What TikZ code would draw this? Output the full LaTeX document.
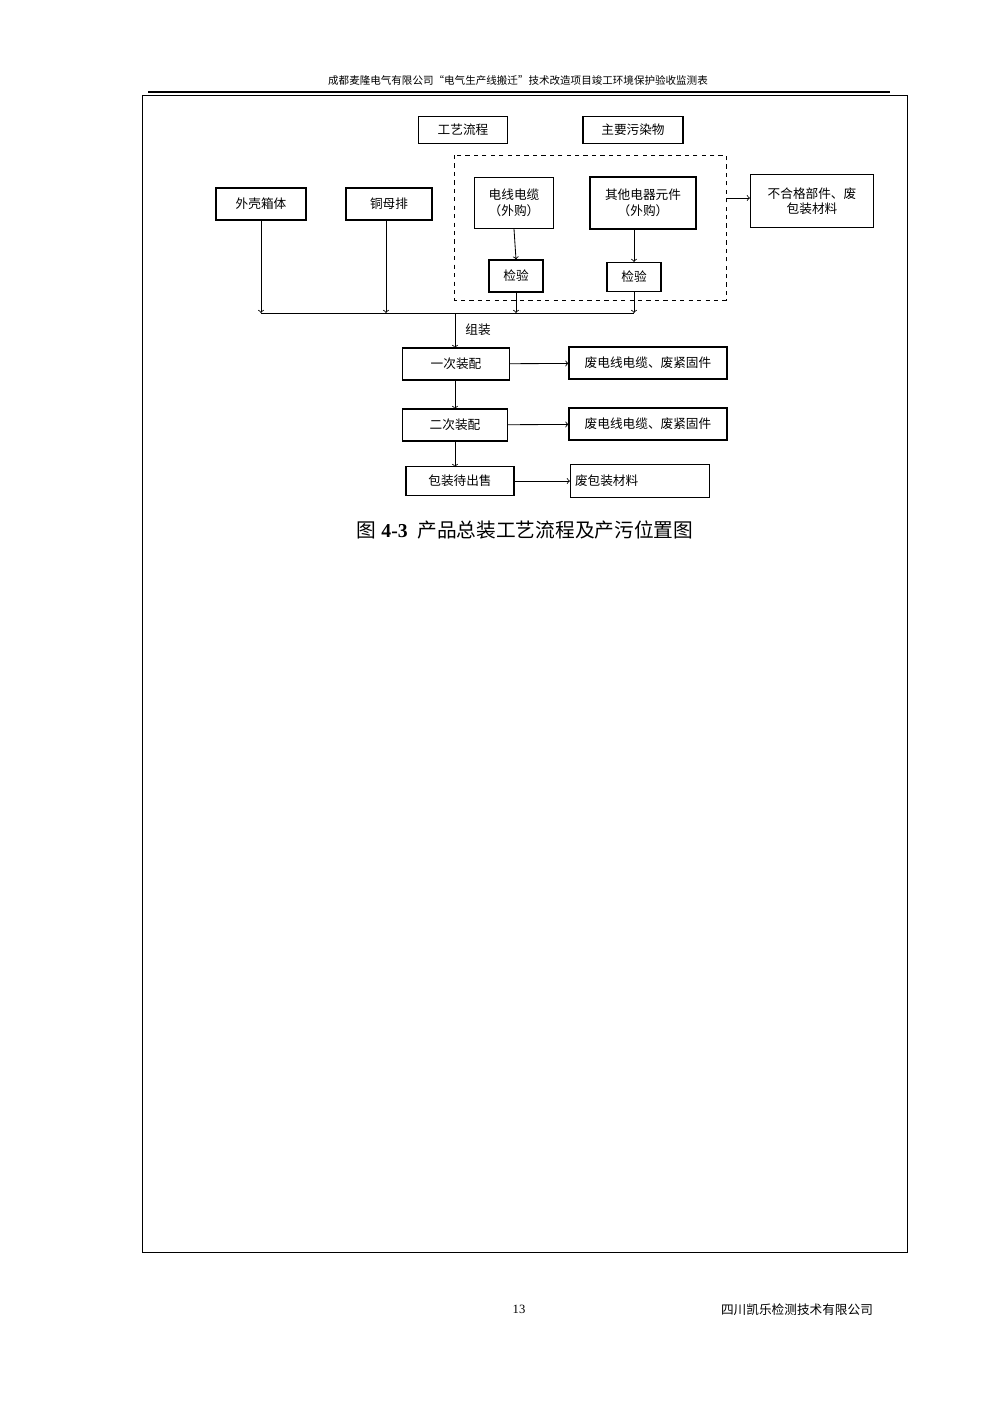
\documentclass[tikz,border=0pt]{standalone}
\usepackage{fontspec}
\setmainfont{Liberation Serif}
\newfontfamily\cjk{Noto Sans CJK SC}
\usetikzlibrary{arrows,shapes,positioning,calc}
\begin{document}
\begin{tikzpicture}[x=0.025cm,y=-0.025cm,
    box/.style={draw, thick, font=\cjk\fontsize{9}{11}\selectfont, inner sep=1pt, align=center},
    link/.style={->, semithick}]
    \useasboundingbox (0,0) rectangle (992,1403);
    % header and frame
    \node[font=\cjk\fontsize{7.5}{9}\selectfont] (head) at (518,80) {成都麦隆电气有限公司“电气生产线搬迁”技术改造项目竣工环境保护验收监测表};
    \draw[line width=1.5pt] (148,92) -- (890,92);
    \draw[semithick] (142,95) rectangle (907,1252);

    % legend
    \node[box, minimum width=89*0.025cm, minimum height=27*0.025cm] (proc) at (463,130) {工艺流程};
    \node[box, minimum width=100*0.025cm, minimum height=27*0.025cm] (poll) at (633,130) {主要污染物};

    % purchased parts
    \draw[dashed] (454,155) rectangle (726,300);
    \coordinate (dashR) at (726,198);
    \node[box, minimum width=90*0.025cm, minimum height=32*0.025cm] (shell) at (261,204) {外壳箱体};
    \node[box, minimum width=86*0.025cm, minimum height=32*0.025cm] (bar) at (389,204) {铜母排};
    \node[box, minimum width=79*0.025cm, minimum height=51*0.025cm] (cable) at (514,203) {电线电缆\\（外购）};
    \node[box, minimum width=106*0.025cm, minimum height=52*0.025cm] (elem) at (643,203) {其他电器元件\\（外购）};
    \node[box, minimum width=123*0.025cm, minimum height=53*0.025cm] (waste0) at (812,201) {不合格部件、废\\包装材料};
    \node[box, minimum width=54*0.025cm, minimum height=32*0.025cm] (chk1) at (516,276) {检验};
    \node[box, minimum width=54*0.025cm, minimum height=29*0.025cm] (chk2) at (634,277) {检验};

    \draw[link] (cable.south) -- (chk1.north);
    \draw[link] (634,229) -- (chk2.north);
    \draw[link] (dashR) -- (waste0.west |- dashR);

    % assembly line
    \coordinate (busL) at (261,313);
    \coordinate (busR) at (634,313);
    \draw[link] (shell.south) -- (busL);
    \draw[link] (bar.south -| 386,0) -- (386,313);
    \draw[link] (chk1.south) -- (516,313);
    \draw[link] (chk2.south) -- (busR);
    \draw[semithick] (busL) -- (busR);
    \node[font=\cjk\fontsize{9}{11}\selectfont] (asm) at (478,330) {组装};

    \node[box, minimum width=107*0.025cm, minimum height=32*0.025cm] (first) at (456,364) {一次装配};
    \node[box, minimum width=158*0.025cm, minimum height=32*0.025cm] (waste1) at (648,363) {废电线电缆、废紧固件};
    \node[box, minimum width=105*0.025cm, minimum height=32*0.025cm] (second) at (455,425) {二次装配};
    \node[box, minimum width=158*0.025cm, minimum height=32*0.025cm] (waste2) at (648,424) {废电线电缆、废紧固件};
    \node[box, minimum width=108*0.025cm, minimum height=29*0.025cm] (pack) at (460,481) {包装待出售};
    \node[box, minimum width=139*0.025cm, minimum height=33*0.025cm, text width=130*0.025cm, align=left] (waste3) at (640,481) {废包装材料};

    \draw[link] (455,313) -- (455,348);
    \draw[link] (455,380) -- (455,409);
    \draw[link] (455,441) -- (455,467);
    \draw[link] (first) -- (waste1);
    \draw[link] (second) -- (waste2);
    \draw[link] (pack) -- (waste3);

    % caption and footer
    \node[font=\fontsize{14}{16}\selectfont] (cap) at (525,530) {{\cjk 图} \textbf{4-3}\ \ {\cjk 产品总装工艺流程及产污位置图}};
    \node[font=\fontsize{9}{11}\selectfont] (page) at (519,1309) {13};
    \node[font=\cjk\fontsize{9}{11}\selectfont] (corp) at (797,1310) {四川凯乐检测技术有限公司};
\end{tikzpicture}
\end{document}
